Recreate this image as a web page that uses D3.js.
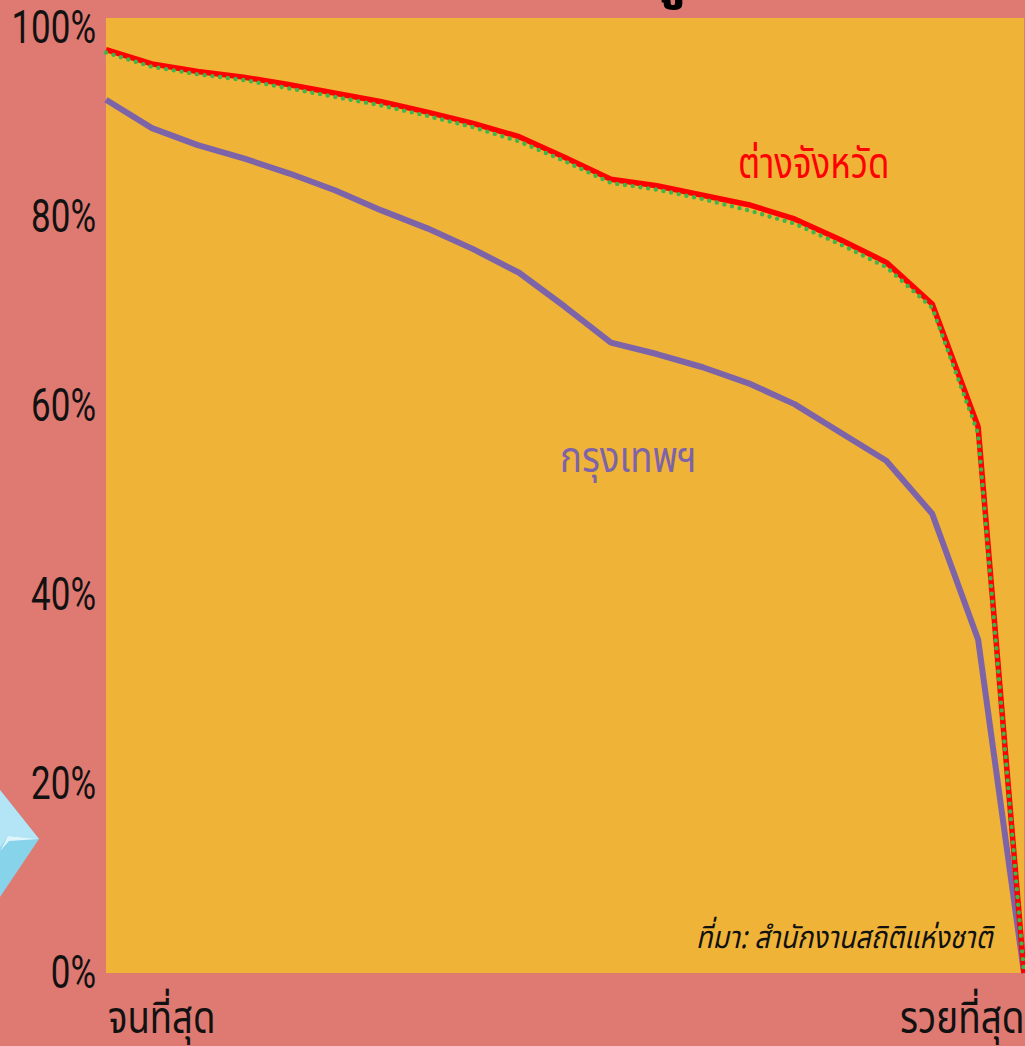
<!DOCTYPE html>
<html lang="th">
<head>
<meta charset="utf-8">
<script src="https://cdn.jsdelivr.net/npm/d3@7/dist/d3.min.js"></script>
<style>
html,body{margin:0;padding:0;background:#de7a72;overflow:hidden}
svg{display:block}
text{font-family:"Noto Sans Thai","Noto Sans","DejaVu Sans",Roboto,sans-serif}
</style>
</head>
<body>
<svg id="chart" width="1025" height="1046"></svg>
<script>
// Income percentile positions from the poorest to the richest household group
const steps = d3.range(21);
const provinces = [97.7,96.2,95.4,94.8,94.0,93.1,92.2,91.1,89.9,88.5,86.3,84.0,83.3,82.3,81.3,79.8,77.6,75.2,70.8,57.8,0];
const nationwide = [97.4,95.9,95.1,94.5,93.6,92.7,91.8,90.7,89.5,88.0,85.9,83.6,82.9,81.9,80.7,79.3,77.1,74.7,70.4,57.1,0];
const bangkok = [92.4,89.4,87.6,86.2,84.6,82.8,80.7,78.8,76.6,74.1,70.5,66.7,65.5,64.1,62.4,60.2,57.2,54.2,48.6,35.3,0];
const yTicks = [0,20,40,60,80,100];

const svg = d3.select("#chart");
const plot = {left:106,right:1024,top:18,bottom:973};
const x = d3.scaleLinear().domain([0,20]).range([plot.left,plot.right]);
const y = d3.scaleLinear().domain([0,100]).range([plot.bottom,28]);

svg.append("rect").attr("width",1025).attr("height",1046).attr("fill","#de7a72");
svg.append("rect").attr("x",plot.left).attr("y",plot.top)
  .attr("width",plot.right-plot.left).attr("height",plot.bottom-plot.top).attr("fill","#efb338");

// Squeeze a text element horizontally so its glyphs read as a condensed face
function condense(sel, k){
  sel.each(function(){
    const len = this.getComputedTextLength();
    d3.select(this).attr("textLength",len*k).attr("lengthAdjust","spacingAndGlyphs");
  });
}

// Corner of the gem ornament
svg.append("path").attr("d","M0,790L39,839L0,897Z").attr("fill","#86d3ea");
svg.append("path").attr("d","M0,790L39,839L8,836L0,848Z").attr("fill","#b4e5f6");
svg.append("path").attr("d","M0,851L8,836L39,839L9,841Z").attr("fill","#dff4fb");

// Bottom of the clipped headline
svg.append("text").attr("x",687).attr("y",-6).attr("text-anchor","middle")
  .attr("font-size",60).attr("font-weight",700).attr("fill","#000").text("ู");

const line = d3.line().x((d,i)=>x(steps[i])).y(d=>y(d));
const stroke = (data,color,width,dash,cap)=>svg.append("path").datum(data)
  .attr("d",line).attr("fill","none").attr("stroke",color).attr("stroke-width",width)
  .attr("stroke-linejoin","round").attr("stroke-linecap",cap||"butt").attr("stroke-dasharray",dash||null);
stroke(bangkok,"#7d63a8",6);
stroke(provinces,"#ff0000",5.5);
stroke(nationwide,"#3fb54a",4.4,"0 7.8","round");

const axis = svg.append("g").attr("transform",`translate(96,0)`)
  .call(d3.axisLeft(y).tickValues(yTicks).tickSize(0).tickPadding(0).tickFormat(d=>d+"%"));
axis.select(".domain").remove();
axis.selectAll("text").attr("font-size",46).attr("fill","#111").attr("dy","0.31em")
  .style("font-family","Roboto,sans-serif").style("font-weight",400).call(condense,0.76);

const labels = [
  {t:"ต่างจังหวัด",x:738,y:178,s:42,c:"#ff0000",k:0.83},
  {t:"กรุงเทพฯ",x:560,y:472,s:42,c:"#7d63a8",k:0.87},
  {t:"จนที่สุด",x:108,y:1033,s:44,c:"#111",k:0.83},
  {t:"รวยที่สุด",x:900,y:1033,s:44,c:"#111",k:0.84}
];
labels.forEach(l=>{
  svg.append("text").attr("x",l.x).attr("y",l.y).attr("font-size",l.s).attr("fill",l.c)
    .text(l.t).call(condense,l.k);
});
svg.append("text").attr("x",696).attr("y",948).attr("font-size",31).attr("font-style","italic")
  .attr("fill","#111").text("ที่มา: สำนักงานสถิติแห่งชาติ").call(condense,0.87);
</script>
</body>
</html>
